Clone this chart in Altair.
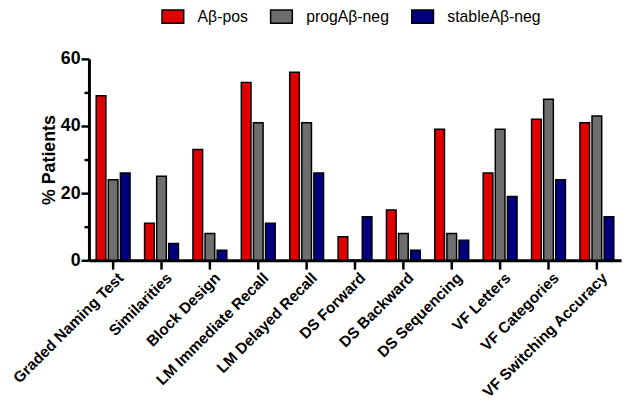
import altair as alt
import pandas as pd

categories = ["Graded Naming Test", "Similarities", "Block Design", "LM Immediate Recall",
              "LM Delayed Recall", "DS Forward", "DS Backward", "DS Sequencing",
              "VF Letters", "VF Categories", "VF Switching Accuracy"]
groups = ["Aβ-pos", "progAβ-neg", "stableAβ-neg"]
abeta_pos = [49, 11, 33, 53, 56, 7, 15, 39, 26, 42, 41]
prog_neg = [24, 25, 8, 41, 41, 0, 8, 8, 39, 48, 43]
stable_neg = [26, 5, 3, 11, 26, 13, 3, 6, 19, 24, 13]
colors = ["#E00000", "#6E6E6E", "#00007F"]

rows = []
for i, c in enumerate(categories):
    for g, vals in zip(groups, [abeta_pos, prog_neg, stable_neg]):
        rows.append({"test": c, "group": g, "value": vals[i]})
df = pd.DataFrame(rows)

FONT = "Liberation Sans"

chart = alt.Chart(df).mark_bar(stroke="black", strokeWidth=1.5).encode(
    x=alt.X("test:N", sort=categories,
            scale=alt.Scale(paddingInner=0.3, paddingOuter=0.15),
            axis=alt.Axis(title=None, labelAngle=-45, labelFont=FONT, labelFontSize=15.5,
                          labelFontWeight="bold", labelColor="black", labelAlign="right",
                          labelBaseline="top", labelPadding=1, labelOffset=3,
                          tickSize=9, tickWidth=2.5, tickColor="black",
                          domainWidth=3, domainColor="black")),
    xOffset=alt.XOffset("group:N", sort=groups, scale=alt.Scale(paddingInner=0.2)),
    y=alt.Y("value:Q", scale=alt.Scale(domain=[0, 60], nice=False),
            axis=alt.Axis(title="% Patients", values=[0, 10, 20, 30, 40, 50, 60],
                          labelExpr="datum.value % 20 === 0 ? datum.label : ''",
                          tickSize={"condition": {"test": "datum.value % 20 === 0", "value": 8}, "value": 5},
                          tickWidth=2.5, tickColor="black", domainWidth=3, domainColor="black",
                          labelFont=FONT, labelFontSize=18, labelFontWeight="bold",
                          labelColor="black", labelPadding=1,
                          titleFont=FONT, titleFontSize=18, titleFontWeight="bold",
                          titleColor="black", titlePadding=2, grid=False)),
    color=alt.Color("group:N", sort=groups,
                    scale=alt.Scale(domain=groups, range=colors),
                    legend=alt.Legend(title=None, orient="none", legendX=73, legendY=-55,
                                      direction="horizontal",
                                      symbolType="M-1,-0.6H1V0.6H-1Z", symbolSize=484,
                                      symbolStrokeColor="black", symbolStrokeWidth=1.5,
                                      symbolOpacity=1,
                                      labelFont=FONT, labelFontSize=16, labelColor="black",
                                      labelOffset=13, columnPadding=20)),
).properties(
    width=539, height=204,
    autosize=alt.AutoSizeParams(type="none"),
    padding={"left": 82, "top": 49, "right": 4, "bottom": 138},
).configure_view(stroke=None)

chart.save("out.html", embed_options={"renderer": "svg", "actions": False})
